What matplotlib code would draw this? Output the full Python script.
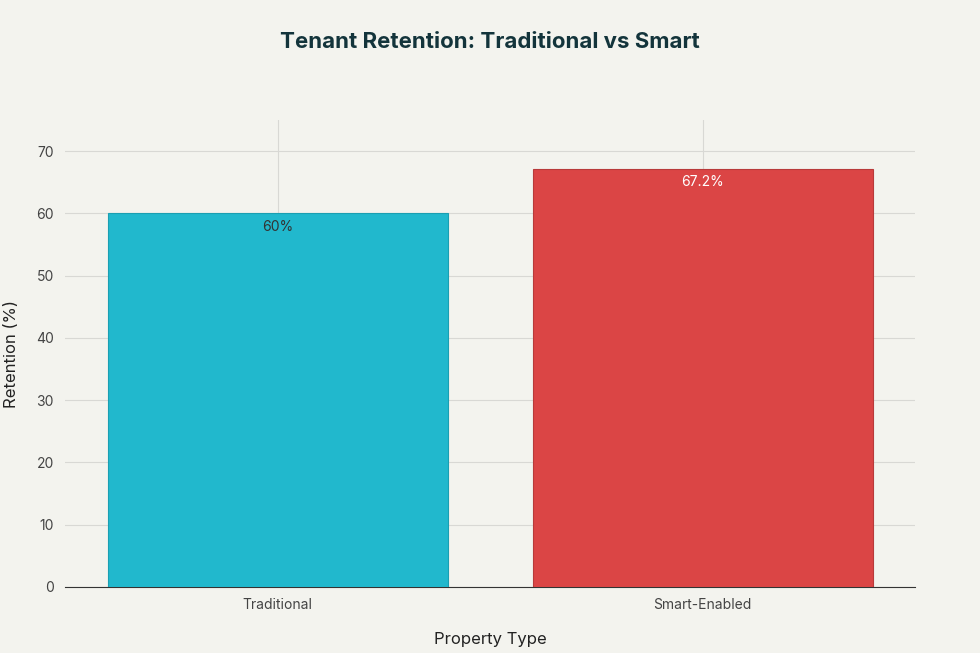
import matplotlib
matplotlib.use("Agg")
import matplotlib.pyplot as plt

categories = ["Traditional", "Smart-Enabled"]
retention = [60.0, 67.2]
labels = ["60%", "67.2%"]
colors = ["#21B8CD", "#DB4545"]
edges = ["#1a9fb2", "#b83a3a"]
label_colors = ["#333333", "white"]

BG = "#F3F3EE"
plt.rcParams["font.family"] = ["Inter", "DejaVu Sans"]

fig = plt.figure(figsize=(9.8, 6.53), dpi=100, facecolor=BG)
ax = fig.add_axes([65/980, 1-587/653, 850/980, (587-120)/653], facecolor=BG)

x = list(range(len(categories)))
ax.bar(x, retention, width=0.8, color=colors, edgecolor=edges, linewidth=0.8, zorder=3)
for xi, v, lab, c in zip(x, retention, labels, label_colors):
    ax.text(xi, v - 1.0, lab, ha="center", va="top", fontsize=10, color=c, zorder=4)

ax.set_xlim(-0.5, 1.5)
ax.set_ylim(0, 75)
ax.set_yticks(range(0, 71, 10))
ax.set_xticks(x)
ax.set_xticklabels(categories)
ax.grid(True, color="#d8d8d4", linewidth=0.8, zorder=0)
for s in ["top", "right", "left"]:
    ax.spines[s].set_visible(False)
ax.spines["bottom"].set_color("#333333")
ax.tick_params(length=0, labelsize=10, colors="#444444", pad=8)
ax.set_xlabel("Property Type", fontsize=12, color="#222222", labelpad=14)
ax.set_ylabel("Retention (%)", fontsize=12, color="#222222", labelpad=12)
fig.text(0.5, 1-42/653, "Tenant Retention: Traditional vs Smart", ha="center", va="center",
         fontsize=16, fontweight="bold", color="#13343B")
fig.savefig("out.png", dpi=100, facecolor=BG)
